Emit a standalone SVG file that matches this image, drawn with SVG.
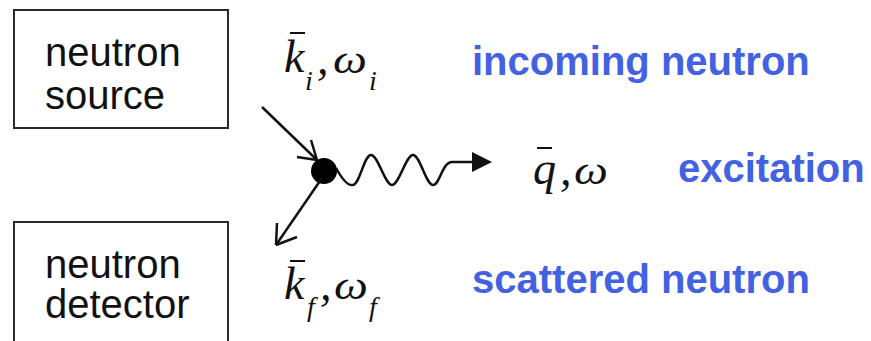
<svg xmlns="http://www.w3.org/2000/svg" width="871" height="341" viewBox="0 0 871 341">
<style>
.box{fill:#fff;stroke:#2a2a2a;stroke-width:2}
.lbl{font-family:"Liberation Sans",Arial,sans-serif;font-size:40px;fill:#111}
.blue{font-family:"Liberation Sans",Arial,sans-serif;font-size:40px;font-weight:bold;fill:#4262e2}
.m{font-family:"Liberation Serif","Times New Roman",serif;font-style:italic;font-size:46px;fill:#111}
.w{font-family:"Liberation Serif","Times New Roman",serif;font-style:italic;font-size:40px;fill:#111}
.s{font-family:"Liberation Serif","Times New Roman",serif;font-style:italic;font-size:28px;fill:#111}
.bar{stroke:#111;stroke-width:2}
.ln{stroke:#111;stroke-width:2.5;fill:none}
</style>
<rect width="871" height="341" fill="#fff"/>
<g id="source">
<rect class="box" x="14" y="10" width="214" height="118"/>
<text class="lbl" x="45" y="66">neutron</text>
<text class="lbl" x="45" y="109">source</text>
</g>
<g id="detector">
<rect class="box" x="14" y="222" width="214" height="130"/>
<text class="lbl" x="45" y="278">neutron</text>
<text class="lbl" x="45" y="318">detector</text>
</g>
<g id="vertex">
<circle cx="324" cy="171" r="13" fill="#000"/>
</g>
<g id="connectors">
<path class="ln" d="M262,107 L317,160"/>
<path class="ln" d="M317,160 L297,157 M317,160 L311,140"/>
<path class="ln" d="M322,178 L276,245"/>
<path class="ln" d="M276,245 L277,223 M276,245 L297,237"/>
<path class="ln" d="M336,168 C342,179 348,186 353,185 C360,184 364,155 371,155 C378,155 385,185 392,185 C399,185 406,155 413,155 C420,155 426,185 433,185 C440,185 442,162 452,162 L474,162"/>
<path d="M472,152 L492,162 L472,172 Z" fill="#111"/>
</g>
<g id="ki">
<line class="bar" x1="290" y1="33" x2="305" y2="33"/>
<text class="m" x="284" y="72">k</text>
<text class="s" x="305" y="90">i</text>
<text class="m" x="317" y="74">,</text>
<text class="w" x="333" y="73" transform="translate(333 73) scale(1.2 1) translate(-333 -73)">ω</text>
<text class="s" x="369" y="90">i</text>
</g>
<g id="kf">
<line class="bar" x1="290" y1="261" x2="305" y2="261"/>
<text class="m" x="284" y="299">k</text>
<text class="s" x="307" y="316">f</text>
<text class="m" x="320" y="300">,</text>
<text class="w" x="334" y="299" transform="translate(334 299) scale(1.2 1) translate(-334 -299)">ω</text>
<text class="s" x="369" y="316">f</text>
</g>
<g id="q">
<line class="bar" x1="537" y1="148" x2="552" y2="148"/>
<text class="m" x="533" y="184">q</text>
<text class="m" x="560" y="185">,</text>
<text class="w" x="574" y="184" transform="translate(574 184) scale(1.2 1) translate(-574 -184)">ω</text>
</g>
<g id="labels">
<text class="blue" x="472" y="75">incoming neutron</text>
<text class="blue" x="678" y="182">excitation</text>
<text class="blue" x="472" y="293">scattered neutron</text>
</g>
</svg>
